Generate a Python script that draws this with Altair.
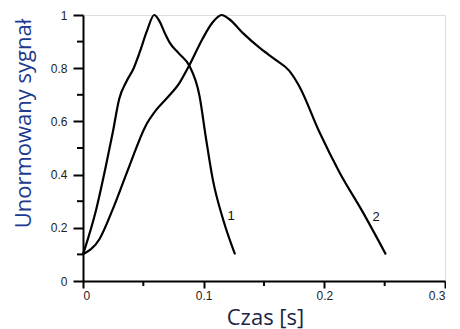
import altair as alt
import pandas as pd

# Curve 1
x1 = [0.0, 0.011, 0.019, 0.0247, 0.030, 0.036, 0.042, 0.047, 0.053, 0.059, 0.063, 0.068,
      0.0717, 0.080, 0.088, 0.0965, 0.102, 0.1075, 0.116, 0.126]
y1 = [0.10, 0.27, 0.433, 0.559, 0.684, 0.75, 0.80, 0.86, 0.94, 1.0, 0.98, 0.93,
      0.897, 0.853, 0.81, 0.697, 0.534, 0.383, 0.233, 0.10]
# Curve 2
x2 = [0.0, 0.0137, 0.0247, 0.0385, 0.052, 0.061, 0.070, 0.080, 0.088, 0.099, 0.107, 0.115,
      0.121, 0.133, 0.146, 0.160, 0.171, 0.179, 0.196, 0.2125, 0.232, 0.251]
y2 = [0.10, 0.158, 0.27, 0.433, 0.584, 0.645, 0.69, 0.745, 0.81, 0.91, 0.97, 1.0,
      0.985, 0.93, 0.878, 0.83, 0.79, 0.734, 0.559, 0.409, 0.258, 0.10]

label_text = ["1", "2"]
label_x = [0.1228, 0.243]
label_y = [0.245, 0.24]

x_domain = [0, 0.3]
y_domain = [0, 1]
x_major_ticks = [0, 0.1, 0.2, 0.3]
x_minor_ticks = [0.05, 0.15, 0.25]
y_major_ticks = [0, 0.2, 0.4, 0.6, 0.8, 1.0]
y_minor_ticks = [0.1, 0.3, 0.5, 0.7, 0.9]

df = pd.concat([
    pd.DataFrame({"t": x1, "s": y1, "k": "1"}),
    pd.DataFrame({"t": x2, "s": y2, "k": "2"}),
])
lab = pd.DataFrame({"t": label_x, "s": label_y, "txt": label_text})
xmin = pd.DataFrame({"t": x_minor_ticks, "s": y_domain[0]})
ymin = pd.DataFrame({"s": y_minor_ticks, "t": x_domain[0]})

xscale = alt.Scale(domain=x_domain, nice=False)
yscale = alt.Scale(domain=y_domain, nice=False)
INK = "black"

xaxis = alt.Axis(
    values=x_major_ticks, format="~g", grid=False,
    tickSize=7, tickWidth=2, tickColor=INK, domainColor=INK, domainWidth=2,
    labelFont="Liberation Sans", labelFontSize=12, labelColor="#222", labelPadding=2,
    title="Czas [s]", titleFont="Open Sans", titleFontSize=22, titleFontWeight="normal",
    titleColor="#1c2445", titleX=182, titleY=36, titleBaseline="middle", titleAlign="center",
)
yaxis = alt.Axis(
    values=y_major_ticks, format="~g", grid=False,
    tickSize=10, tickWidth=2, tickColor=INK, domainColor=INK, domainWidth=2,
    labelFont="Liberation Sans", labelFontSize=12, labelColor="#222", labelPadding=6,
    title="Unormowany sygnał", titleFont="Open Sans", titleFontSize=22, titleFontWeight="normal",
    titleColor="#203a8f", titleX=-60, titleY=108, titleAngle=-90,
    titleBaseline="middle", titleAlign="center",
)

X = alt.X("t:Q", scale=xscale, axis=xaxis)
Y = alt.Y("s:Q", scale=yscale, axis=yaxis)

lines = alt.Chart(df).mark_line(color="black", strokeWidth=2.2, interpolate="monotone").encode(
    x=X, y=Y, detail="k:N",
)
texts = alt.Chart(lab).mark_text(font="Liberation Sans", fontSize=13, color="#111").encode(
    x=X, y=Y, text="txt:N",
)
xt_minor = alt.Chart(xmin).mark_tick(orient="vertical", color=INK, size=5, thickness=2,
                                     yOffset=2.5, opacity=1).encode(x=X, y=Y)
yt_minor = alt.Chart(ymin).mark_tick(orient="horizontal", color=INK, size=6, thickness=2,
                                     xOffset=-3, opacity=1).encode(x=X, y=Y)

chart = alt.layer(lines, xt_minor, yt_minor, texts).properties(
    width=362, height=266,
    padding={"left": 3, "top": 1, "right": 0, "bottom": 1},
)

chart.save("out.html", embed_options={"renderer": "svg", "actions": False})
